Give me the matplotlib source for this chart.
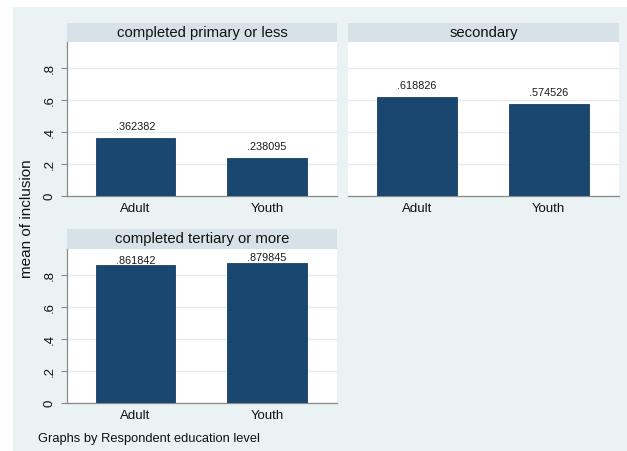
import matplotlib
matplotlib.use("Agg")
import matplotlib.pyplot as plt
from matplotlib.patches import Rectangle

plt.rcParams['font.family'] = ['Liberation Sans', 'DejaVu Sans']

# ---- data ----
panels = ["completed primary or less", "secondary", "completed tertiary or more"]
groups = ["Adult", "Youth"]
primary_vals = [0.362382, 0.238095]
secondary_vals = [0.618826, 0.574526]
tertiary_vals = [0.861842, 0.879845]
yticks = [0, 0.2, 0.4, 0.6, 0.8]
ytick_labels = ["0", ".2", ".4", ".6", ".8"]
ylabel = "mean of inclusion"
note = "Graphs by Respondent education level"

values = [primary_vals, secondary_vals, tertiary_vals]

W, H = 627, 451
fig = plt.figure(figsize=(W / 100, H / 100), dpi=100)
fig.patch.set_facecolor("white")

BG = "#EAF2F3"
STRIP = "#D6E2E8"
BAR = "#1A476F"
AXC = "#8A8A8A"

fig.patches.append(Rectangle((13 / W, 0), 1 - 13 / W, 1 - 7 / H,
                             transform=fig.transFigure, facecolor=BG,
                             edgecolor="none", zorder=-10))

def px_axes(x0, y0, x1, y1):
    return fig.add_axes([x0 / W, 1 - y1 / H, (x1 - x0) / W, (y1 - y0) / H])

# (x0, x1, strip_top, plot_top, plot_bottom, show_y, label_offset_pts)
layout = [
    (67, 337, 23, 42, 196, True, 8.0),
    (348, 619, 23, 42, 196, False, 8.0),
    (67, 337, 229, 249, 403, True, 3.0),
]

for (x0, x1, st, pt, pb, show_y, off), title, vals in zip(layout, panels, values):
    # strip
    sax = px_axes(x0, st, x1, pt)
    sax.set_facecolor(STRIP)
    sax.set_xticks([]); sax.set_yticks([])
    for s in sax.spines.values():
        s.set_visible(False)
    sax.text(0.5, 0.5, title, ha="center", va="center", fontsize=10.7,
             color="#111111", transform=sax.transAxes)

    ax = px_axes(x0, pt, x1, pb)
    ax.set_facecolor("white")
    xs = list(range(len(groups)))
    bars = ax.bar(xs, vals, width=0.608, color=BAR, edgecolor="#173F63",
                  linewidth=0.6, zorder=3)
    for b, v in zip(bars, vals):
        ax.annotate(f"{v:.6f}".lstrip("0"), (b.get_x() + b.get_width() / 2, v),
                    xytext=(0, off), textcoords="offset points",
                    ha="center", va="center", fontsize=7.8, color="#1a1a1a",
                    zorder=5, annotation_clip=False)
    ax.set_xlim(-0.521, 1.532)
    ax.set_ylim(0, 0.965)
    ax.set_yticks(yticks)
    ax.yaxis.grid(True, color="#E3EDF0", linewidth=1.0, zorder=0)
    ax.set_axisbelow(True)
    ax.set_xticks(xs)
    ax.set_xticklabels(groups, fontsize=9.5, color="#111111")
    ax.tick_params(axis="x", length=0, pad=5)
    for side in ("top", "right"):
        ax.spines[side].set_visible(False)
    ax.spines["bottom"].set_color(AXC)
    ax.spines["bottom"].set_linewidth(0.9)
    if show_y:
        ax.spines["left"].set_color(AXC)
        ax.spines["left"].set_linewidth(0.9)
        ax.set_yticklabels(ytick_labels, fontsize=9.5, rotation=90,
                           va="center", color="#111111")
        ax.tick_params(axis="y", length=4, width=0.8, color=AXC, pad=4)
    else:
        ax.spines["left"].set_visible(False)
        ax.tick_params(axis="y", length=0, labelleft=False)

fig.text(27.5 / W, 1 - 219 / H, ylabel, rotation=90, ha="center", va="center",
         fontsize=11, color="#111111")
fig.text(38 / W, 1 - 439 / H, note, ha="left", va="center", fontsize=9.3,
         color="#111111")

fig.savefig("out.png", dpi=100, facecolor=fig.get_facecolor())
